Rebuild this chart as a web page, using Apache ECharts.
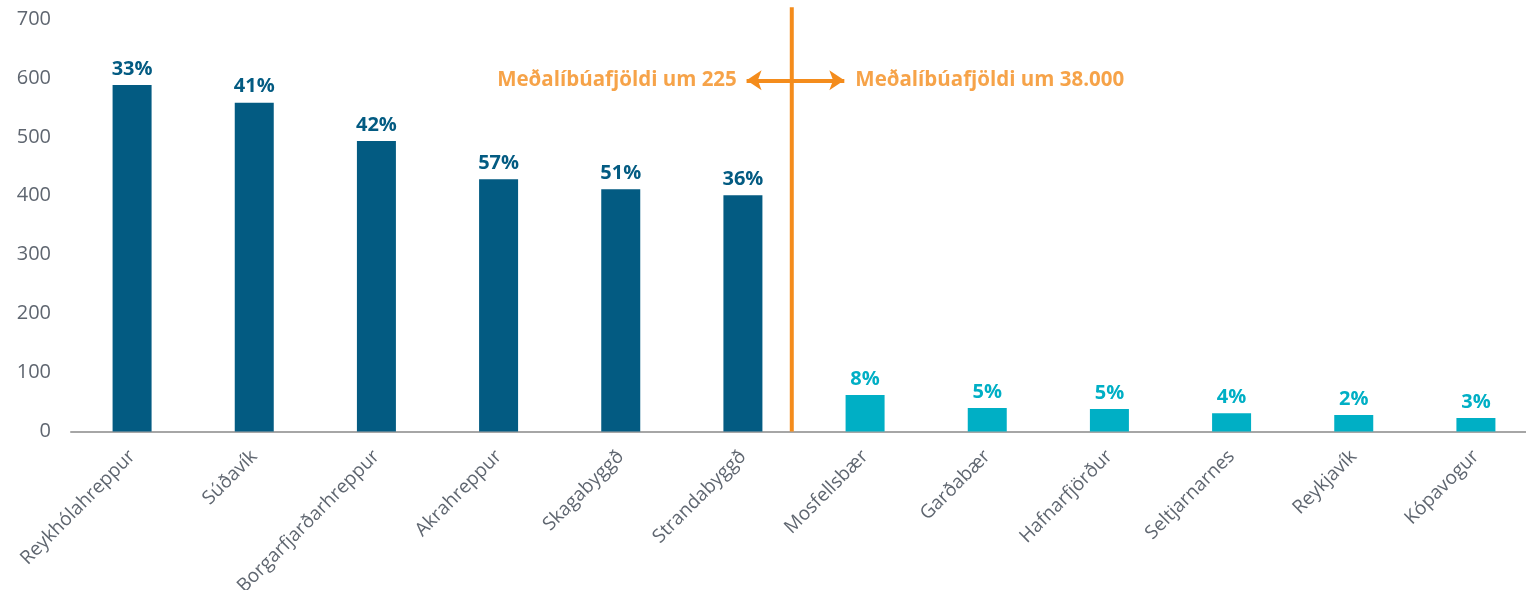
<!DOCTYPE html>
<html><head><meta charset="utf-8">
<script src="https://cdn.jsdelivr.net/npm/echarts@6/dist/echarts.min.js"></script>
<style>html,body{margin:0;padding:0;background:#fff}#c{width:1526px;height:590px}</style>
</head><body><div id="c"></div>
<script>
const categories = ['Reykhólahreppur','Súðavík','Borgarfjarðarhreppur','Akrahreppur','Skagabyggð','Strandabyggð','Mosfellsbær','Garðabær','Hafnarfjörður','Seltjarnarnes','Reykjavík','Kópavogur'];
const values = [588, 558, 493, 428, 411, 401, 62, 40, 38, 31, 28, 23];
const pctLabels = ['33%','41%','42%','57%','51%','36%','8%','5%','5%','4%','2%','3%'];
const groups = [0,0,0,0,0,0,1,1,1,1,1,1];
const yTicks = [0, 100, 200, 300, 400, 500, 600, 700];
const dividerPos = 5.9;
const arrowLeft = 5.53, arrowRight = 6.33, arrowY = 596;
const annotLeftPos = 5.45, annotRightPos = 6.42;
const annotLeft = 'Meðalíbúafjöldi um 225';
const annotRight = 'Meðalíbúafjöldi um 38.000';

const colors = ['#035B82', '#00AFC5'];
const orange = '#F48C1C';
const font = '"Open Sans", "Noto Sans", sans-serif';

const chart = echarts.init(document.getElementById('c'));
chart.setOption({
  animation: false,
  grid: { left: 71, top: 19, width: 1466, height: 412.5, containLabel: false, outerBoundsMode: 'none' },
  xAxis: [{
    type: 'category', data: categories,
    axisLine: { lineStyle: { color: '#A6A6A6', width: 2 } },
    axisTick: { show: false },
    axisLabel: { rotate: 45, color: '#5F6670', fontSize: 19, fontFamily: font, margin: 22, interval: 0 }
  }, {
    type: 'value', min: 0, max: 12, show: false
  }],
  yAxis: {
    type: 'value', min: 0, max: 700, interval: 100,
    splitLine: { show: false },
    axisLine: { show: false }, axisTick: { show: false },
    axisLabel: { color: '#5F6670', fontSize: 20, fontFamily: font, margin: 20,
      formatter: v => yTicks.includes(v) ? String(v) : '' }
  },
  series: [{
    type: 'bar', barWidth: 39,
    data: values.map((v, i) => ({ value: v, itemStyle: { color: colors[groups[i]] },
      label: { color: colors[groups[i]] } })),
    label: { show: true, position: 'top', distance: 6, fontSize: 20, fontWeight: 'bold', fontFamily: font,
      formatter: p => pctLabels[p.dataIndex] }
  }, {
    type: 'line', xAxisIndex: 1, clip: false, symbol: 'none',
    lineStyle: { color: orange, width: 4 },
    data: [[dividerPos, 0], [dividerPos, 720]]
  }, {
    type: 'line', xAxisIndex: 1, clip: false, symbol: 'none',
    lineStyle: { width: 0 }, data: [],
    markLine: {
      silent: true, symbol: ['arrow', 'arrow'], symbolSize: [15, 15],
      lineStyle: { color: orange, width: 4, type: 'solid' },
      label: { show: false },
      data: [[{ coord: [arrowLeft, arrowY] }, { coord: [arrowRight, arrowY] }]]
    }
  }, {
    type: 'scatter', xAxisIndex: 1, symbolSize: 0, clip: false,
    data: [
      { value: [annotLeftPos, arrowY], label: { position: 'left', formatter: annotLeft } },
      { value: [annotRightPos, arrowY], label: { position: 'right', formatter: annotRight } }
    ],
    label: { show: true, color: orange, fontSize: 20.5, fontWeight: 'bold', fontFamily: font, distance: 0 }
  }]
});
</script></body></html>
